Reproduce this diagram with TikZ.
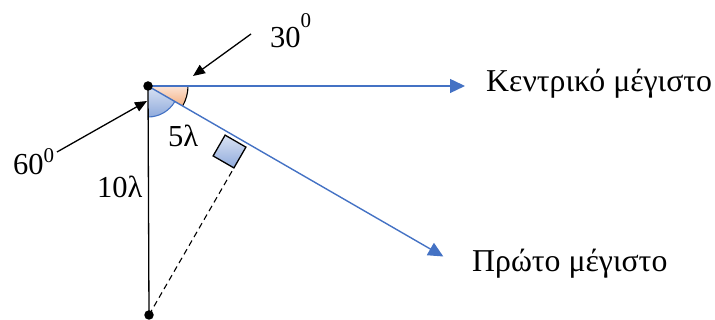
\documentclass[tikz,border=0pt]{standalone}
\usepackage{fontspec}
\setmainfont{Liberation Serif}
\usetikzlibrary{arrows.meta,calc}
\definecolor{obl}{HTML}{4472C4}
\definecolor{orl}{HTML}{FCE4D6}
\definecolor{ord}{HTML}{F4B183}
\definecolor{bll}{HTML}{DAE3F3}
\definecolor{bld}{HTML}{8FAADC}
\tikzset{
  lbl/.style={inner sep=0pt, anchor=base west, font=\fontsize{30.5}{36}\selectfont},
  biglbl/.style={lbl, font=\fontsize{31.8}{38}\selectfont},
  bluearrow/.style={draw=obl, line width=1.4pt, -{Triangle[length=15pt,width=14pt]}},
  blackarrow/.style={draw=black, line width=1.3pt, -{Triangle[length=12pt,width=10pt]}},
  dotmark/.style={circle, fill=black, inner sep=0pt, minimum size=9.5pt},
}
\newcommand{\supz}[1]{\raisebox{#1}{\fontsize{21}{21}\selectfont 0}}
\begin{document}
\begin{tikzpicture}[x=1pt,y=1pt]
\useasboundingbox (0,0) rectangle (715,320);
% key points
\coordinate (P) at (148,234);
\coordinate (Q) at (149,5);
\coordinate (H) at (465,234);
\coordinate (R) at ($(P)+(-30:341pt)$);
\coordinate (F) at ($(P)!(Q)!(R)$);
\coordinate (A) at ($(F)!4pt!(Q)$);
\coordinate (B) at ($(F)!28pt!(Q)$);
\coordinate (C) at ($(B)!24pt!-90:(Q)$);
\coordinate (D) at ($(A)!24pt!-90:(Q)$);
% angle sectors
\shade[top color=orl, bottom color=ord] (P) -- ++(0:40pt) arc[start angle=0, end angle=-30, radius=40pt] -- cycle;
\draw[line width=1.1pt] ($(P)+(0:40pt)$) arc[start angle=0, end angle=-30, radius=40pt];
\shade[top color=bll, bottom color=bld] (P) -- ++(-90:31pt) arc[start angle=-90, end angle=-30, radius=31pt] -- cycle;
\draw[obl, line width=1.1pt] ($(P)+(-90:31pt)$) arc[start angle=-90, end angle=-30, radius=31pt];
% right-angle marker
\shade[top color=bll, bottom color=bld] (A) -- (B) -- (C) -- (D) -- cycle;
\draw[line width=1.3pt] (A) -- (B) -- (C) -- (D) -- cycle;
% lines
\draw[line width=1.3pt] (P) -- (Q);
\draw[line width=1.1pt, dash pattern=on 6pt off 4pt] (Q) -- (B);
\draw[bluearrow] (P) -- (H);
\draw[bluearrow] (P) -- (R);
% dots
\node[dotmark] (p) at (P) {};
\node[dotmark] (q) at (Q) {};
% labels
\node[lbl] (t30) at (270,272) {30\supz{20pt}};
\node[lbl] (t60) at (13,145) {60\supz{12pt}};
\node[lbl] (t5) at (168,173) {5λ};
\node[lbl] (t10) at (97,122) {10λ};
\node[biglbl] (tk) at (486,228) {Κεντρικό μέγιστο};
\node[biglbl] (tp) at (472,48) {Πρώτο μέγιστο};
% pointer arrows
\coordinate (a30s) at (251,286);
\coordinate (a30e) at (193,244);
\coordinate (a60s) at (57,168);
\coordinate (a60e) at (147,219);
\draw[blackarrow] (a30s) -- (a30e);
\draw[blackarrow] (a60s) -- (a60e);
\end{tikzpicture}
\end{document}
